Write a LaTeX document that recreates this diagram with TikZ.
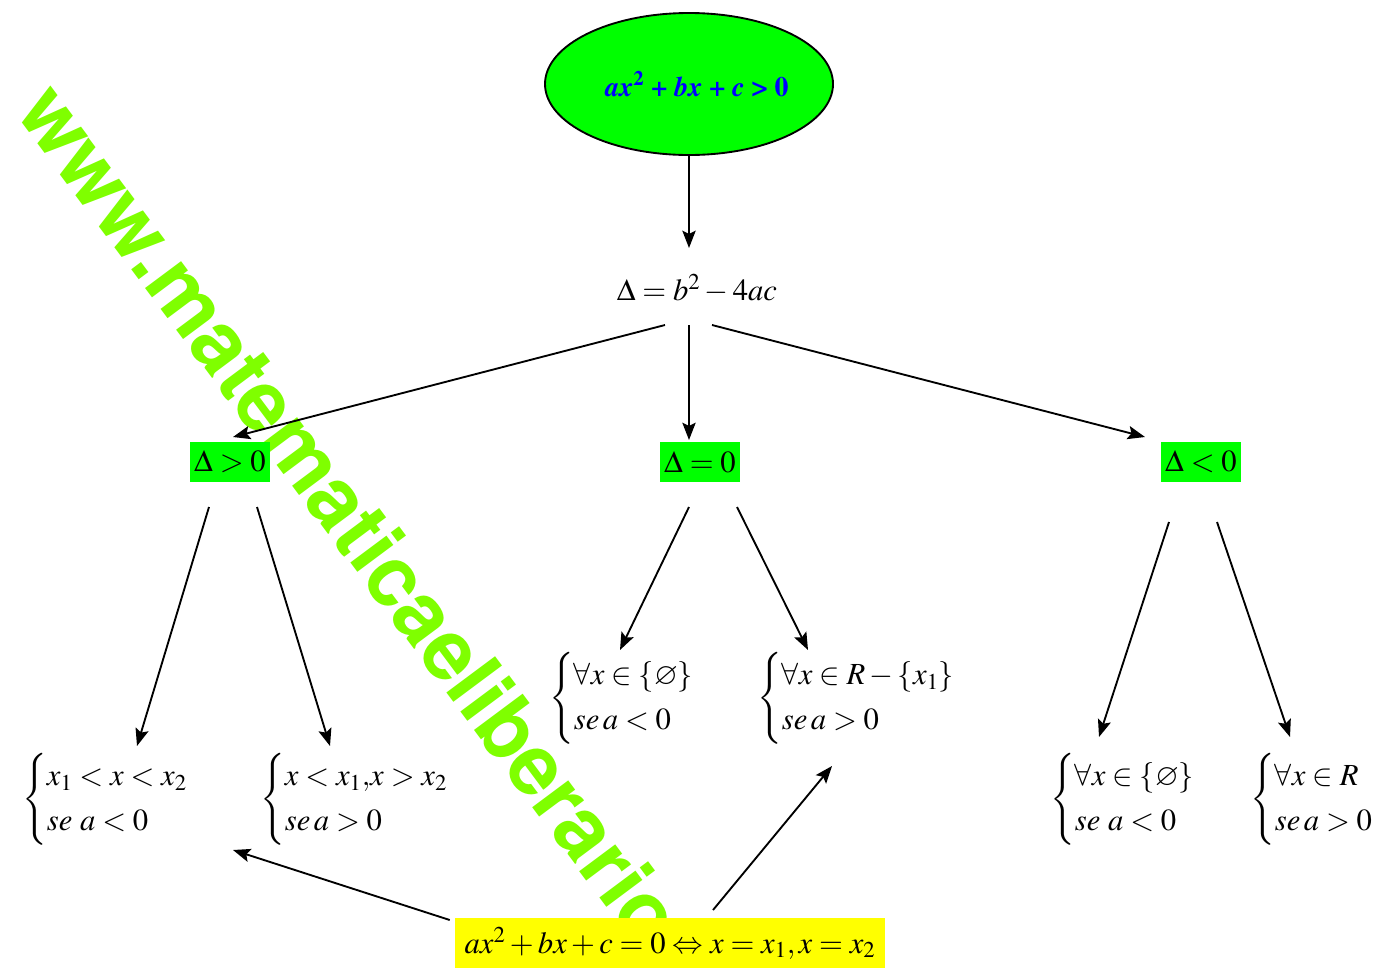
\documentclass[tikz,border=0pt]{standalone}
\usepackage[T1]{fontenc}
\usepackage{mathptmx}
\usepackage{amssymb}
\usepackage{helvet}
\usetikzlibrary{arrows.meta,shapes.geometric,calc}
\definecolor{verde}{RGB}{0,255,0}
\definecolor{lima}{RGB}{127,255,0}
\definecolor{giallo}{RGB}{255,255,0}
\renewcommand{\arraystretch}{1.3}
\newcommand{\sist}[2]{$\left\{\begin{array}{@{}l@{}}#1\\#2\end{array}\right.$}
\tikzset{
  freccia/.style={line width=1.4pt,-{Stealth[length=13pt,width=10pt,inset=2.5pt]}},
  scatola/.style={fill=verde,inner sep=0pt,minimum width=60pt,minimum height=30pt},
  sistema/.style={anchor=west,inner sep=0pt},
}
\begin{document}
\begin{tikzpicture}[x=0.75pt,y=0.75pt,yscale=-1,xscale=1,font=\fontsize{23}{26}\selectfont]
			\path[use as bounding box] (0,0) rectangle (1376,968);
			
			% Watermark
			\begin{scope}
				\clip (0,0) rectangle (1376,918);
				\node[rotate=-53.3,anchor=base west,inner sep=0pt,text=lima,font=\sffamily\bfseries\fontsize{62.5}{64}\selectfont] (marca) at (14,112) {www.matematicaeliberario.it};
			\end{scope}
			
			%Shape: Ellipse
			\node[ellipse,draw,line width=1.4pt,fill=verde,minimum width=216pt,minimum height=106.5pt,inner sep=0pt,text=blue,font=\fontsize{21}{24}\selectfont\bfseries] (disequazione) at (689,84) {\hspace*{12pt}\textit{ax}\textsuperscript{2} + \textit{bx} + \textit{c} > 0};
			
			% Text Node
			\node (delta) at (697,289) {$\Delta = b^{2} - 4ac$};
			% Boxes
			\node[scatola] (pos) at (230,462) {$\Delta > 0$};
			\node[scatola] (zero) at (700,462) {$\Delta = 0$};
			\node[scatola] (neg) at (1201,462) {$\Delta < 0$};
			
			% Systems
			\node[sistema] (s1) at (22,799) {\sist{x_{1} < x < x_{2}}{se\ a < 0}};
			\node[sistema] (s2) at (260,799) {\sist{x < x_{1}{,}x > x_{2}}{se\,a > 0}};
			\node[sistema] (s3) at (549,698) {\sist{\forall x \in \{\varnothing\}}{se\,a < 0}};
			\node[sistema] (s4) at (757,698) {\sist{\forall x \in R - \{x_{1}\}}{se\,a > 0}};
			\node[sistema] (s5) at (1050,799) {\sist{\forall x \in \{\varnothing\}}{se\ a < 0}};
			\node[sistema] (s6) at (1250,799) {\sist{\forall x \in R}{se\,a > 0}};
			
			% Roots
			\node[fill=giallo,inner sep=0pt,minimum width=322.5pt,minimum height=37.5pt] (radici) at (670,943) {$ax^{2} + bx + c = 0 \Leftrightarrow x = x_{1}, x = x_{2}$};
			
			%Straight Lines
			\draw[freccia] (disequazione.south) -- ($(delta)+(-8,-41)$);
			\draw[freccia] ($(delta)+(-32,36)$) -- ($(pos)+(3,-25)$);
			\draw[freccia] ($(delta)+(-8,36)$) -- ($(zero)+(-11,-22)$);
			\draw[freccia] ($(delta)+(15,36)$) -- ($(neg)+(-56,-25)$);
			\draw[freccia] ($(pos)+(-21,45)$) -- ($(s1.west)+(115,-53)$);
			\draw[freccia] ($(pos)+(27,45)$) -- ($(s2.west)+(70,-53)$);
			\draw[freccia] ($(zero)+(-11,45)$) -- ($(s3.west)+(71,-48)$);
			\draw[freccia] ($(zero)+(37,45)$) -- ($(s4.west)+(51,-48)$);
			\draw[freccia] ($(neg)+(-32,60)$) -- ($(s5.west)+(49,-62)$);
			\draw[freccia] ($(neg)+(16,60)$) -- ($(s6.west)+(40,-62)$);
			\draw[freccia] ($(radici.west)+(-5,-23)$) -- ($(s1.west)+(211,51)$);
			\draw[freccia] ($(radici)+(43,-33)$) -- ($(s4.west)+(75,68)$);
			
\end{tikzpicture}
\end{document}
